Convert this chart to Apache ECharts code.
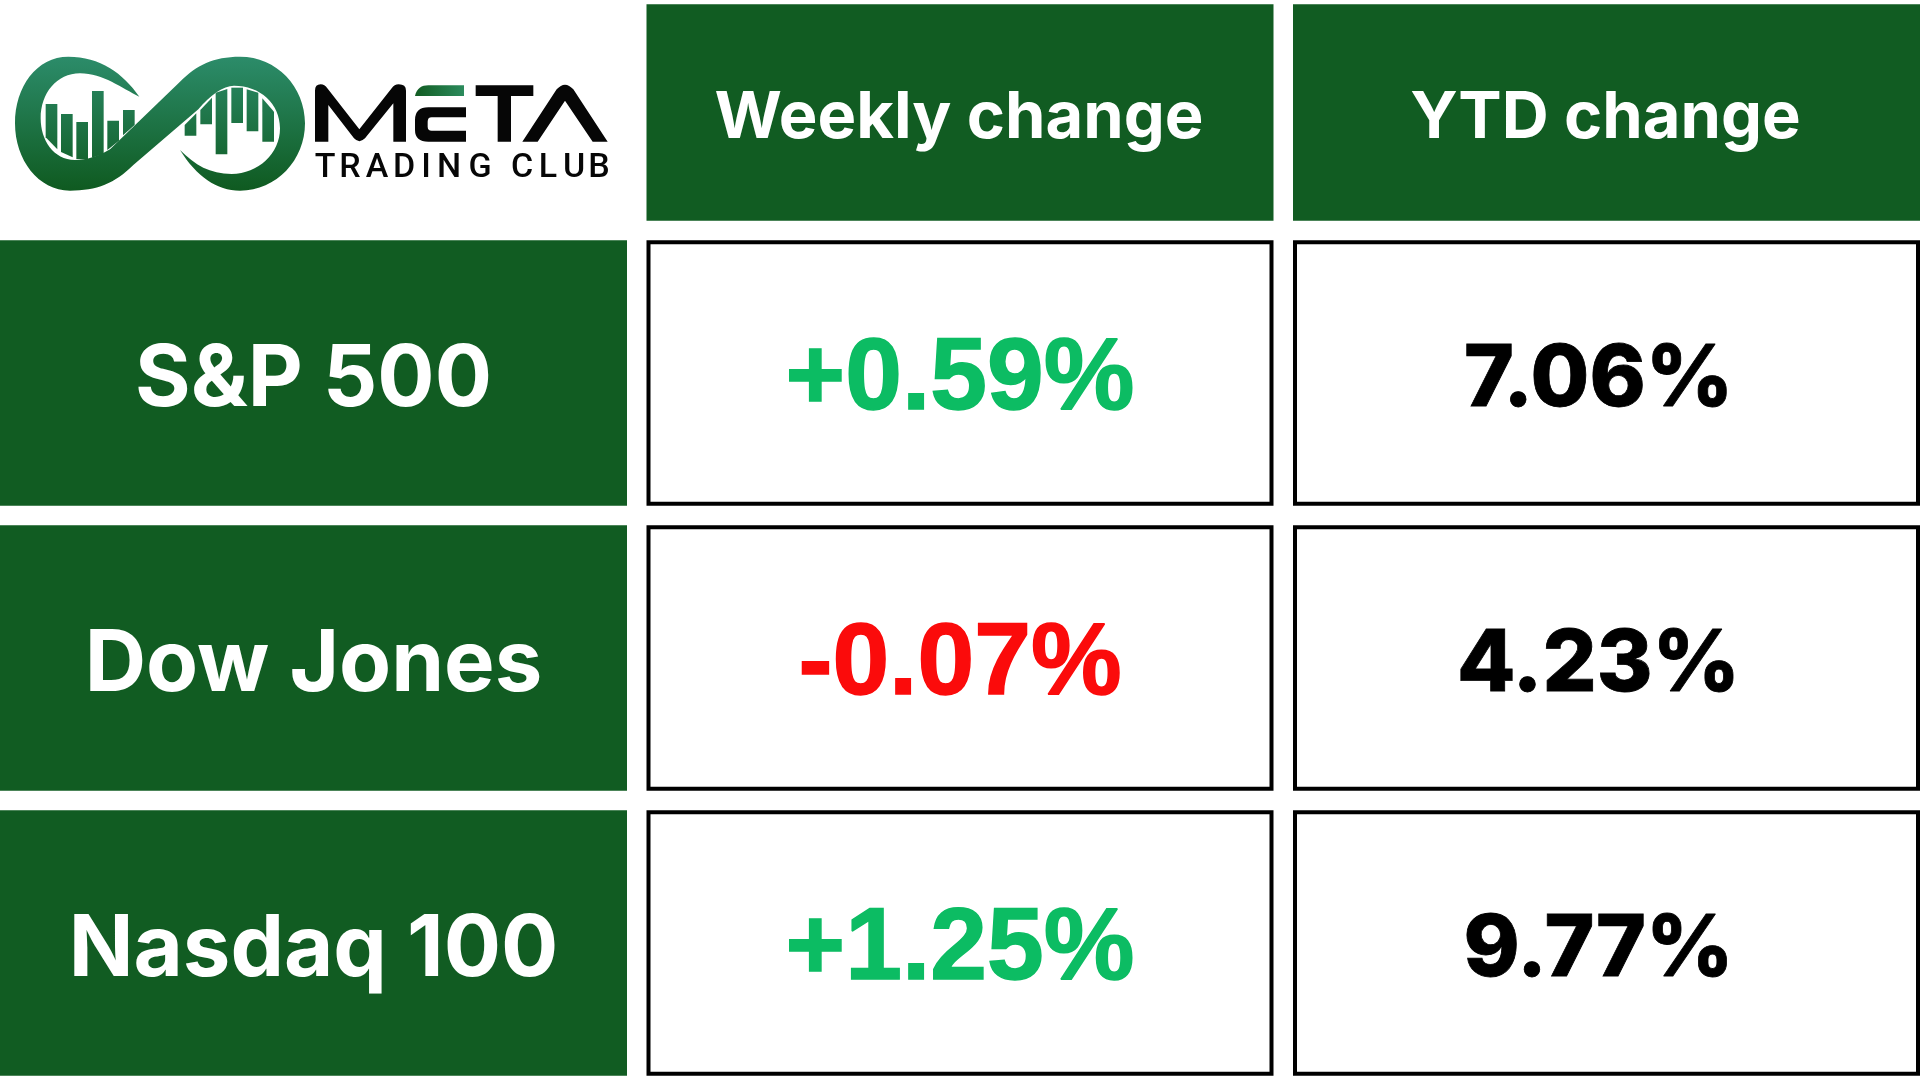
<!DOCTYPE html>
<html>
<head>
<meta charset="utf-8">
<style>html,body{margin:0;padding:0;background:#fff}#c{width:1920px;height:1080px}</style>
<script src="https://cdn.jsdelivr.net/npm/echarts@6/dist/echarts.min.js"></script>
</head>
<body>
<div id="c"></div>
<script>
const columnHeads = ['', 'Weekly change', 'YTD change'];
const indices = ['S&P 500', 'Dow Jones', 'Nasdaq 100'];
const weeklyChange = [0.59, -0.07, 1.25];
const ytdChange = [7.06, 4.23, 9.77];

const DARK = '#115c22', UP = '#0cbc63', DOWN = '#fb0b0b', INK = '#000000';
const GAP = 19.5;
const logoFont = 'Roboto';

const headData = columnHeads.map((t, i) => [i, 0, t]).filter(d => d[2]);
const labelData = indices.map((t, r) => [0, r, t]);
const weeklyData = weeklyChange.map((v, r) => [1, r, v]);
const ytdData = ytdChange.map((v, r) => [2, r, v]);

function cellRender(kind) {
  return function (params, api) {
    const c = api.coord([api.value(0), api.value(1)]);
    const s = api.size([1, 1]);
    const w = s[0] - GAP, h = s[1] - GAP;
    const x = c[0] - w / 2, y = c[1] - h / 2;
    const raw = (kind === 'head' || kind === 'label')
      ? (kind === 'head' ? headData : labelData)[params.dataIndex][2]
      : api.value(2);
    const children = [];
    let text, font, fill, dx = 0, dy = 7, stroke = null, lineWidth = 0;
    if (kind === 'head') {
      children.push({ type: 'rect', shape: { x, y, width: w, height: h }, style: { fill: DARK } });
      text = raw; fill = '#fff'; font = '700 65px Inter'; dy = 5.5; dx = -1;
    } else if (kind === 'label') {
      children.push({ type: 'rect', shape: { x, y, width: w, height: h }, style: { fill: DARK } });
      text = raw; fill = '#fff'; font = '700 85px Inter'; dy = 7;
    } else {
      children.push({ type: 'rect', shape: { x: x + 2, y: y + 2, width: w - 4, height: h - 4 },
        style: { fill: '#fff', stroke: INK, lineWidth: 4 } });
      if (kind === 'weekly') {
        text = (raw > 0 ? '+' : '-') + Math.abs(raw).toFixed(2) + '%';
        fill = raw > 0 ? UP : DOWN;
        font = 'bold 102px "Liberation Sans"';
        stroke = fill; lineWidth = 1.5; dy = 8;
      } else {
        text = raw.toFixed(2) + '%';
        fill = INK;
        font = '800 85px Inter';
        stroke = fill; lineWidth = 0.8; dx = -8; dy = 7;
      }
    }
    const textStyle = { x: c[0] + dx, y: c[1] + dy, text, font, fill, align: 'center', verticalAlign: 'middle' };
    if (stroke) { textStyle.stroke = stroke; textStyle.lineWidth = lineWidth; }
    children.push({ type: 'text', style: textStyle });
    return { type: 'group', children };
  };
}

const band = { type: 'linear', x: 0, y: 20, x2: 0, y2: 422, global: true,
  colorStops: [{ offset: 0, color: '#2c8c6a' }, { offset: 1, color: '#0f5a20' }] };
const eShine = { type: 'linear', x: 345, y: 0, x2: 495, y2: 0, global: true,
  colorStops: [{ offset: 0, color: '#115c22' }, { offset: 1, color: '#2c8c5e' }] };

const markPaths = [
  'M388,140 C340,70 270,20 175,20 C80,20 15,110 15,220 C15,330 85,422 180,422 C260,422 315,400 370,345 L565,178 C600,135 640,107 672,107 C750,107 810,160 810,235 C810,310 745,372 665,372 C600,372 555,345 510,300 C560,380 620,422 690,422 C800,422 885,330 885,220 C885,110 800,20 690,20 C610,20 560,45 510,95 L300,298 C265,320 230,330 195,330 C130,330 92,270 92,205 C92,130 140,70 210,70 C280,70 335,115 388,140 Z',
  'M107,162 L142,162 L142,298 L107,262 Z',
  'M153,192 L188,192 L188,322 L153,306 Z',
  'M199,216 L234,216 L234,328 L199,327 Z',
  'M246,123 L281,123 L281,312 L246,323 Z',
  'M292,212 L327,212 L327,272 L292,300 Z',
  'M339,180 L374,180 L374,225 L339,256 Z',
  'M524,225 L559,190 L559,257 L524,257 Z',
  'M571,180 L606,143 L606,223 L571,223 Z',
  'M617,128 L652,117 L652,313 L617,313 Z',
  'M664,113 L699,113 L699,219 L664,219 Z',
  'M710,118 L745,128 L745,244 L710,244 Z',
  'M757,145 L792,185 L792,275 L757,275 Z'
];
const wordPaths = [
  'M45,215 L45,62 Q45,43 62,43 Q74,43 82,55 L178,178 L275,55 Q283,43 296,43 Q318,43 318,62 L318,215 L280,215 L280,100 L195,205 Q178,222 162,205 L85,105 L85,215 Z',
  'M498,112 L385,112 Q345,112 345,150 L345,180 Q345,215 385,215 L498,215 L498,182 L395,182 Q383,182 383,170 L383,155 Q383,142 395,142 L498,142 Z',
  'M527,46 L700,46 L700,78 L633,78 L633,215 L593,215 L593,78 L527,78 Z',
  'M667,215 L770,58 Q795,30 820,58 L923,215 L878,215 L795,92 L713,215 Z'
];
const clubLetters = 'TRADINGCLUB'.split('');
const clubCentres = [325, 350, 377, 404, 426, 449, 480, 522, 548, 574, 599];

function logoRender() {
  return { type: 'group', children: [
    { type: 'group', x: 10, y: 50, scaleX: 1 / 3, scaleY: 1 / 3,
      children: markPaths.map(p => ({ type: 'path', shape: { pathData: p }, style: { fill: band } })) },
    { type: 'group', x: 300, y: 70, scaleX: 1 / 3, scaleY: 1 / 3,
      children: wordPaths.map(p => ({ type: 'path', shape: { pathData: p }, style: { fill: '#060606' } })).concat([
        { type: 'path', shape: { pathData: 'M345,78 C350,55 365,46 385,46 L492,46 L492,78 Z' }, style: { fill: eShine } }
      ]) }
  ].concat(clubLetters.map((ch, i) => ({
    type: 'text',
    style: { x: clubCentres[i], y: 168, text: ch, font: '500 34px ' + logoFont, fill: '#060606', align: 'center', verticalAlign: 'middle' }
  }))) };
}

const hiddenCat = (data, gridIndex, inverse) => ({
  type: 'category', data, gridIndex, inverse: !!inverse, show: false,
  axisLine: { show: false }, axisTick: { show: false }, axisLabel: { show: false }, splitLine: { show: false }
});

const chart = echarts.init(document.getElementById('c'), null, { renderer: 'canvas' });
chart.setOption({
  animation: false,
  backgroundColor: '#ffffff',
  tooltip: { show: false },
  grid: [
    { left: -9.75, width: 1939.5, top: -5.5, height: 236, outerBoundsMode: 'none' },
    { left: -9.75, width: 1939.5, top: 230.5, height: 855, outerBoundsMode: 'none' }
  ],
  xAxis: [hiddenCat(columnHeads, 0), hiddenCat(columnHeads, 1)],
  yAxis: [hiddenCat(['head'], 0), hiddenCat(indices, 1, true)],
  series: [
    { type: 'custom', xAxisIndex: 0, yAxisIndex: 0, data: headData.map(d => [d[0], d[1]]), renderItem: cellRender('head'), clip: false, silent: true },
    { type: 'custom', xAxisIndex: 1, yAxisIndex: 1, data: labelData.map(d => [d[0], d[1]]), renderItem: cellRender('label'), clip: false, silent: true },
    { type: 'custom', xAxisIndex: 1, yAxisIndex: 1, data: weeklyData, renderItem: cellRender('weekly'), clip: false, silent: true },
    { type: 'custom', xAxisIndex: 1, yAxisIndex: 1, data: ytdData, renderItem: cellRender('ytd'), clip: false, silent: true },
    { type: 'custom', coordinateSystem: 'none', data: [0], renderItem: logoRender, silent: true }
  ]
});
</script>
</body>
</html>
